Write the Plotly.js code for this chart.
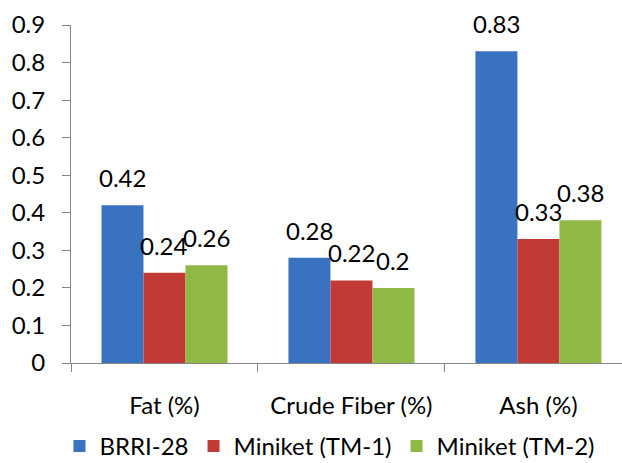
<!DOCTYPE html>
<html>
<head>
<meta charset="utf-8">
<script src="https://cdn.plot.ly/plotly-3.0.1.min.js"></script>
<style>html,body{margin:0;padding:0;background:#fff;}#chart{width:622px;height:463px;}</style>
</head>
<body>
<div id="chart"></div>
<script>
const categories = ["Fat (%)", "Crude Fiber (%)", "Ash (%)"];
const seriesNames = ["BRRI-28", "Miniket (TM-1)", "Miniket (TM-2)"];
const brri28 = [0.42, 0.28, 0.83];
const tm1 = [0.24, 0.22, 0.33];
const tm2 = [0.26, 0.20, 0.38];
const yTicks = [0, 0.1, 0.2, 0.3, 0.4, 0.5, 0.6, 0.7, 0.8, 0.9];

const colors = ["#3a72c2", "#c23a36", "#8fb844"];
const allSeries = [brri28, tm1, tm2];
const FONT = "Lato, 'Liberation Sans', sans-serif";
const FS = 24;

const traces = allSeries.map((vals, i) => ({
  type: "bar",
  name: seriesNames[i],
  x: categories,
  y: vals,
  marker: {color: colors[i]},
  hoverinfo: "skip"
}));

const annotations = [];
allSeries.forEach((vals, i) => {
  vals.forEach((v, j) => {
    annotations.push({
      x: categories[j], y: v, xref: "x", yref: "y",
      text: String(v), showarrow: false,
      xanchor: "center", yanchor: "bottom",
      xshift: (i - 1) * 42, yshift: 11,
      font: {family: FONT, size: FS, color: "#000"}
    });
  });
});

const layout = {
  width: 622, height: 463,
  margin: {l: 71, r: 0, t: 25, b: 100, autoexpand: false},
  paper_bgcolor: "#fff", plot_bgcolor: "#fff",
  barmode: "group", bargap: 0.326, bargroupgap: 0,
  font: {family: FONT, size: FS, color: "#000"},
  xaxis: {
    type: "category", range: [-0.5, 2.447], automargin: false,
    showline: true, linecolor: "#868686", linewidth: 1,
    ticks: "outside", tickson: "boundaries", ticklen: 8, tickcolor: "#868686",
    showgrid: false, zeroline: false,
    ticklabelstandoff: 21,
    tickfont: {family: FONT, size: FS, color: "#000"}
  },
  yaxis: {
    range: [0, 0.9], tickvals: yTicks, ticktext: yTicks.map(String), automargin: false,
    showline: true, linecolor: "#868686", linewidth: 1,
    ticks: "outside", ticklen: 8, tickcolor: "#868686",
    showgrid: false, zeroline: false,
    ticklabelstandoff: 12,
    tickfont: {family: FONT, size: FS, color: "#000"}
  },
  showlegend: true,
  legend: {
    orientation: "h", x: 0.47, xanchor: "center", y: -0.247, yanchor: "middle",
    font: {family: FONT, size: FS, color: "#000"},
    itemwidth: 30, tracegroupgap: 0
  },
  annotations: annotations
};

Plotly.newPlot("chart", traces, layout, {displayModeBar: false, staticPlot: true});
</script>
</body>
</html>
